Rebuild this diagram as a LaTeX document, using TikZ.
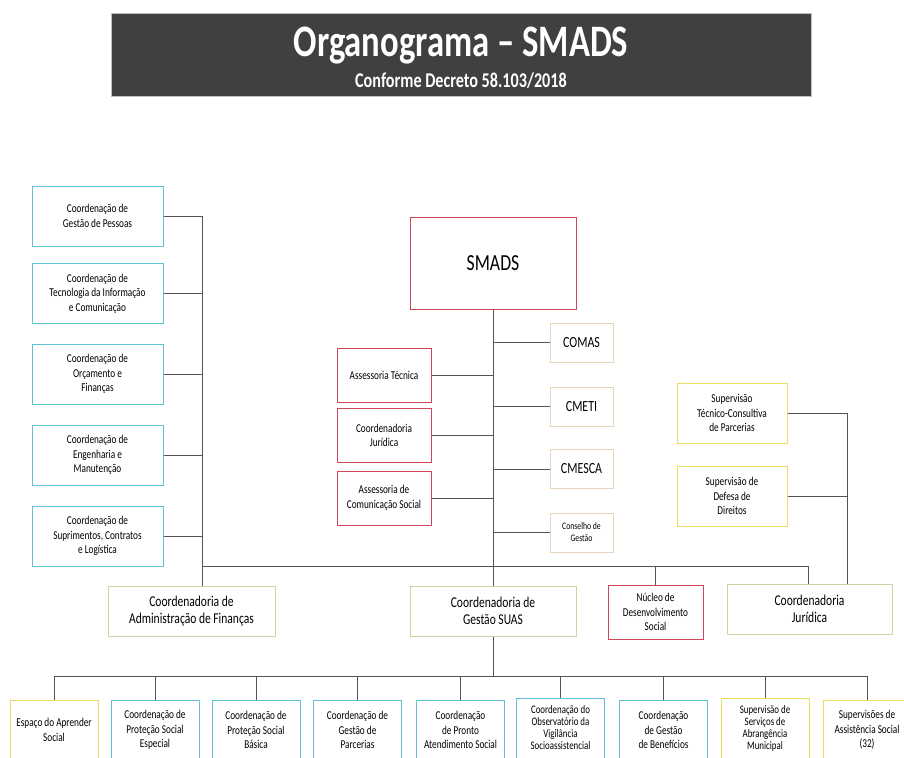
\documentclass[tikz,border=0pt]{standalone}
\usepackage{fontspec}
\setmainfont[FakeStretch=0.77]{Carlito}
\definecolor{boxcyan}{RGB}{96,192,214}
\definecolor{boxred}{RGB}{204,72,86}
\definecolor{boxgreen}{RGB}{196,218,160}
\definecolor{boxyellow}{RGB}{238,220,96}
\definecolor{boxbeige}{RGB}{232,212,184}
\definecolor{headgray}{RGB}{64,64,64}
\definecolor{linegray}{RGB}{84,84,84}
\begin{document}
\begin{tikzpicture}[x=1pt, y=-1pt,
    box/.style={draw, line width=1pt, align=center, inner sep=1pt},
    cyan node/.style={box, draw=boxcyan, minimum width=131, minimum height=60},
    red node/.style={box, draw=boxred, minimum width=94, minimum height=54},
    beige node/.style={box, draw=boxbeige, minimum width=63, minimum height=39, font=\fontsize{15.5}{17}\selectfont},
    yellow node/.style={box, draw=boxyellow, minimum width=110, minimum height=60},
    green node/.style={box, draw=boxgreen, minimum width=166, minimum height=50, font=\fontsize{15}{17}\selectfont},
    bottom node/.style={box, minimum width=88, minimum height=60}]
  \tikzstyle{every node}=[font=\fontsize{12}{14.5}\selectfont]
  \useasboundingbox (0,0) rectangle (904,757);
  \clip (0,0) rectangle (904,757);

  % header
  \node[fill=headgray, draw=gray!50, minimum width=700, minimum height=83] (head) at (461,54.5) {};
  \node[text=white, font=\fontsize{45}{50}\selectfont\bfseries] (title) at (461,46) {Organograma – SMADS};
  \node[text=white, font=\fontsize{21}{23}\selectfont\bfseries] (subtitle) at (461,81) {Conforme Decreto 58.103/2018};

  % left column
  \node[cyan node] (c1) at (97.5,216) {Coordenação de\\Gestão de Pessoas};
  \node[cyan node] (c2) at (97.5,293.5) {Coordenação de\\Tecnologia da Informação\\e Comunicação};
  \node[cyan node] (c3) at (97.5,374) {Coordenação de\\Orçamento e\\Finanças};
  \node[cyan node] (c4) at (97.5,455) {Coordenação de\\Engenharia e\\Manutenção};
  \node[cyan node] (c5) at (97.5,536) {Coordenação de\\Suprimentos, Contratos\\e Logística};

  % centre
  \node[red node, minimum width=166, minimum height=92, font=\fontsize{23}{26}\selectfont] (smads) at (493,263) {SMADS};
  \node[beige node] (comas) at (581.5,342.5) {COMAS};
  \node[beige node] (cmeti) at (581.5,406.5) {CMETI};
  \node[beige node] (cmesca) at (581.5,469) {CMESCA};
  \node[beige node, font=\fontsize{10}{12}\selectfont] (cons) at (581.5,532.5) {Conselho de\\Gestão};
  \node[red node] (ast) at (384,375) {Assessoria Técnica};
  \node[red node] (cjur) at (384,435.5) {Coordenadoria\\Jurídica};
  \node[red node] (acs) at (384,498) {Assessoria de\\Comunicação Social};

  % right column
  \node[yellow node] (sup1) at (732,413) {Supervisão\\Técnico-Consultiva\\de Parcerias};
  \node[yellow node] (sup2) at (732,496) {Supervisão de\\Defesa de\\Direitos};

  % middle row
  \node[green node, minimum width=167] (adm) at (191.5,611) {Coordenadoria de\\Administração de Finanças};
  \node[green node] (suas) at (493,611) {Coordenadoria de\\Gestão SUAS};
  \node[red node, minimum width=95] (nucleo) at (655.5,612) {Núcleo de\\Desenvolvimento\\Social};
  \node[green node, minimum width=165] (jur) at (809.5,609) {Coordenadoria\\Jurídica};

  % bottom row
  \node[bottom node, draw=boxyellow] (b1) at (54,730) {Espaço do Aprender\\Social};
  \node[bottom node, draw=boxcyan] (b2) at (155,730) {Coordenação de\\Proteção Social\\Especial};
  \node[bottom node, draw=boxcyan] (b3) at (256,730) {Coordenação de\\Proteção Social\\Básica};
  \node[bottom node, draw=boxcyan] (b4) at (357.5,730) {Coordenação de\\Gestão de\\Parcerias};
  \node[bottom node, draw=boxcyan] (b5) at (460.5,730) {Coordenação\\de Pronto\\Atendimento Social};
  \node[bottom node, draw=boxcyan, font=\fontsize{11.5}{12}\selectfont] (b6) at (560.5,728) {Coordenação do\\Observatório da\\Vigilância\\Socioassistencial};
  \node[bottom node, draw=boxcyan] (b7) at (663.5,730) {Coordenação\\de Gestão\\de Benefícios};
  \node[bottom node, draw=boxyellow, font=\fontsize{11.5}{12}\selectfont] (b8) at (765,728) {Supervisão de\\Serviços de\\Abrangência\\Municipal};
  \node[bottom node, draw=boxyellow] (b9) at (867,730) {Supervisões de\\Assistência Social\\(32)};

  % connectors
  \coordinate (lv) at (202,566);
  \coordinate (rb) at (808,566);
  \coordinate (rv) at (847,413);
  \coordinate (bb) at (493,676);

  \begin{scope}[line width=1pt, draw=linegray]
    \draw (c1.east) -| (adm.north -| lv);
    \foreach \n in {c2,c3,c4,c5}
      \draw (\n.east) -- (\n.east -| lv);
    \draw (lv) -- (rb) -- (jur.north -| rb);
    \draw (nucleo.north) -- (nucleo.north |- lv);
    \draw (smads.south) -- (suas.north);
    \foreach \n in {comas,cmeti,cmesca,cons}
      \draw (\n.west) -- (\n.west -| smads.south);
    \foreach \n in {ast,cjur,acs}
      \draw (\n.east) -- (\n.east -| smads.south);
    \draw (sup1.east) -| (jur.north -| rv);
    \draw (sup2.east) -- (sup2.east -| rv);
    \draw (suas.south) -- (bb);
    \foreach \i in {1,...,9}
      \draw (b\i.north) |- (bb);
  \end{scope}
\end{tikzpicture}
\end{document}
